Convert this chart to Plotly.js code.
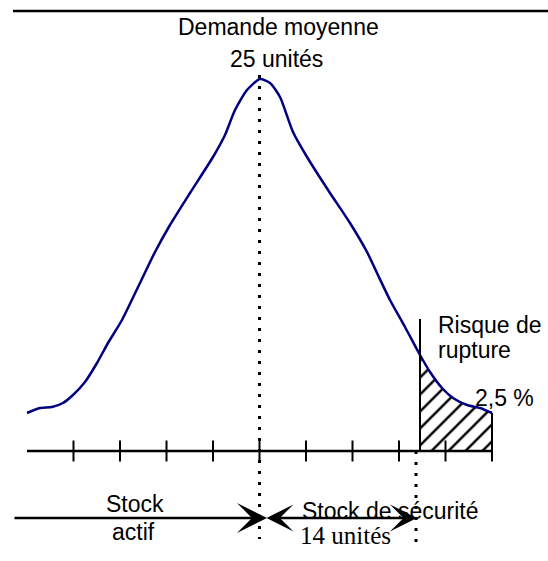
<!DOCTYPE html>
<html>
<head>
<meta charset="utf-8">
<script src="https://cdn.plot.ly/plotly-3.0.1.min.js"></script>
<style>html,body{margin:0;padding:0;background:#fff;}#chart{width:548px;height:561px;}</style>
</head>
<body>
<div id="chart"></div>
<script>
// Demand curve (x in tick units: 5 = mean demand of 25 units; y = relative density height)
const curveX = [0, 0.28, 0.538, 0.774, 0.989, 1.247, 1.505, 1.742, 2.043, 2.43, 2.753, 3.075, 3.505, 4.0, 4.258, 4.473, 4.731, 5.011, 5.226, 5.441, 5.72, 6.022, 6.516, 6.946, 7.312, 7.527, 7.806, 8.129, 8.452, 8.667, 8.925, 9.161, 9.462, 9.742, 10];
const curveY = [38, 43, 44, 48, 56, 69, 88, 108, 131, 168, 199, 226, 258, 294, 316, 341, 361, 372, 368, 354, 319, 294, 258, 228, 199, 178, 151, 124, 96, 79, 63, 53, 46, 43, 38];
const tickX = [1, 2, 3, 4, 5, 6, 7, 8, 9, 10];
const meanX = 5;            // demande moyenne (25 unités)
const ruptureX = 8.452;     // start of stock-out risk area
const safetyEndX = 8.366;   // end of safety stock arrow
const labels = {
  title1: "Demande moyenne",
  title2: "25 unités",
  risk1: "Risque de",
  risk2: "rupture",
  pct: "2,5 %",
  active1: "Stock",
  active2: "actif",
  safety: "Stock de sécurité",
  safetyUnits: "14 unités"
};

const hatchX = [], hatchY = [];
curveX.forEach((x, i) => { if (x >= ruptureX) { hatchX.push(x); hatchY.push(curveY[i]); } });

const sans = "Liberation Sans, Arial, sans-serif";
const serif = "Liberation Serif, Times New Roman, serif";
const navy = "#000080";

const traces = [
  {x: hatchX, y: hatchY, type: "scatter", mode: "lines", fill: "tozeroy",
   line: {width: 0, shape: "spline", color: navy}, fillcolor: "white",
   fillpattern: {shape: "/", fgcolor: "black", bgcolor: "white", size: 12, solidity: 0.2},
   hoverinfo: "skip"},
  {x: curveX, y: curveY, type: "scatter", mode: "lines",
   line: {color: navy, width: 2.5, shape: "spline", smoothing: 0.6}, hoverinfo: "skip"},
  {x: tickX, y: tickX.map(() => 0), type: "scatter", mode: "markers",
   marker: {symbol: "line-ns", size: 15, color: "black", line: {color: "black", width: 2}},
   hoverinfo: "skip", cliponaxis: false}
];

const lineBlack = {color: "black", width: 2.5};
const shapes = [
  {type: "line", x0: -0.301, x1: 11.3, y0: 440, y1: 440, line: {color: "black", width: 2.5}},
  {type: "line", x0: 0, x1: 10, y0: 0, y1: 0, line: lineBlack},
  {type: "line", x0: ruptureX, x1: ruptureX, y0: 0, y1: 132, line: {color: "black", width: 2}},
  {type: "line", x0: 10, x1: 10, y0: 0, y1: 38, line: {color: "black", width: 2}},
  {type: "line", x0: meanX, x1: meanX, y0: 376, y1: -88, line: {color: "black", width: 3, dash: "3px,8px"}},
  {type: "line", x0: safetyEndX, x1: safetyEndX, y0: 0, y1: -94, line: {color: "black", width: 3, dash: "3px,8px"}}
];

function txt(text, x, y, xanchor, size, family) {
  return {text: text, x: x, y: y, xref: "x", yref: "y", showarrow: false,
    xanchor: xanchor, yanchor: "middle", font: {family: family || sans, size: size || 23, color: "black"}};
}

const annotations = [
  txt(labels.title1, 5.398, 424, "center"),
  txt(labels.title2, 5.366, 392, "center"),
  txt(labels.risk1, 8.8, 126, "left"),
  txt(labels.risk2, 8.8, 101, "left"),
  txt(labels.pct, 9.6, 53, "left"),
  txt(labels.active1, 2.312, -53, "center"),
  txt(labels.active2, 2.29, -81, "center"),
  txt(labels.safety, 7.796, -60, "center"),
  txt(labels.safetyUnits, 6.849, -84, "center", 25, serif),
  {text: "", x: 5.161, y: -67, ax: -0.301, ay: -67, xref: "x", yref: "y", axref: "x", ayref: "y",
   showarrow: true, arrowhead: 3, arrowsize: 2, arrowwidth: 2.5, arrowcolor: "black", standoff: 0},
  {text: "", x: safetyEndX + 0.02, y: -67, ax: 5.118, ay: -67, xref: "x", yref: "y", axref: "x", ayref: "y",
   showarrow: true, arrowhead: 3, startarrowhead: 3, arrowside: "end+start", arrowsize: 1.8, startarrowsize: 1.8,
   arrowwidth: 2.5, arrowcolor: "black", standoff: 0, startstandoff: 0}
];

const layout = {
  width: 548, height: 561,
  margin: {l: 0, r: 0, t: 0, b: 0, pad: 0},
  paper_bgcolor: "white", plot_bgcolor: "white",
  showlegend: false,
  xaxis: {range: [-27/46.5, 521/46.5], visible: false, fixedrange: true},
  yaxis: {range: [-110, 451], visible: false, fixedrange: true},
  shapes: shapes,
  annotations: annotations
};

Plotly.newPlot("chart", traces, layout, {displayModeBar: false, staticPlot: true});
</script>
</body>
</html>
